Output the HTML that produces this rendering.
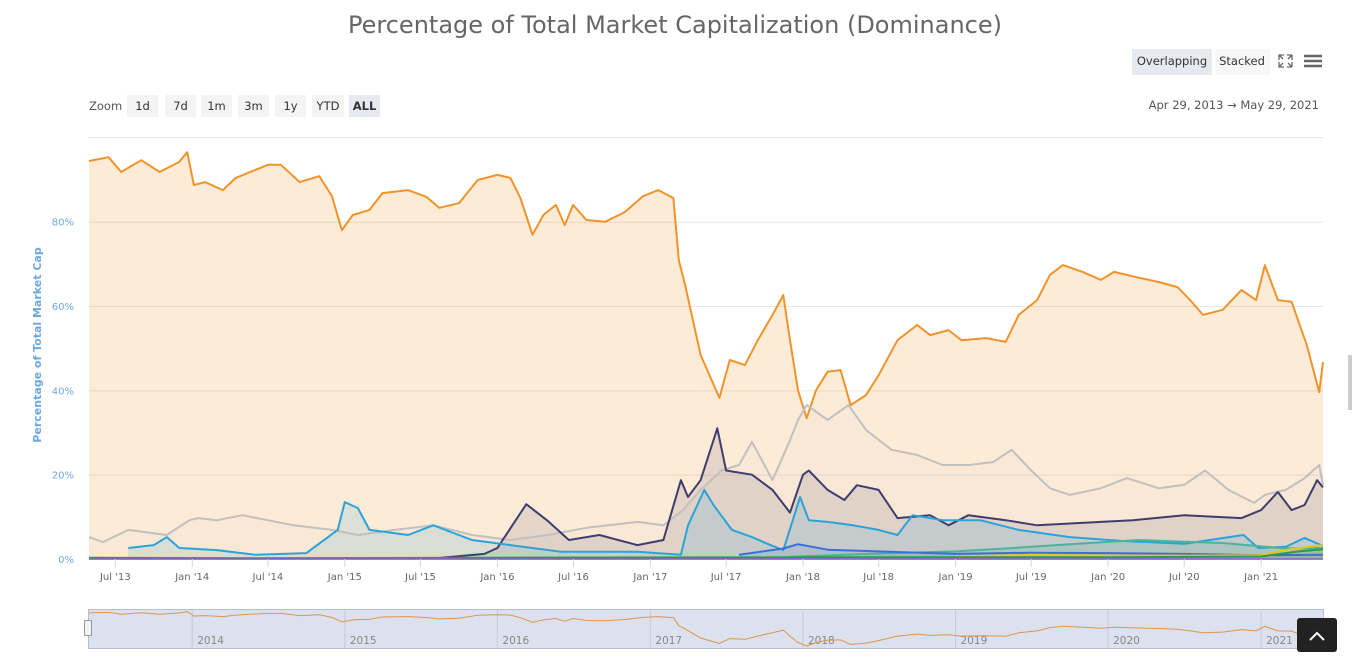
<!DOCTYPE html>
<html><head><meta charset="utf-8">
<style>
body{margin:0;background:#fff;font-family:"DejaVu Sans",sans-serif;}
#wrap{position:relative;width:1352px;height:664px;overflow:hidden;}
svg text{font-family:"DejaVu Sans",sans-serif;}
</style></head><body>
<div id="wrap">
<svg id="svg" width="1352" height="664" xmlns="http://www.w3.org/2000/svg" style="position:absolute;left:0;top:0">
<text x="675" y="33" text-anchor="middle" font-size="24" fill="#666">Percentage of Total Market Capitalization (Dominance)</text>
<rect x="1132" y="49" width="80" height="26" fill="#e6e9f0"/>
<text x="1172" y="65" text-anchor="middle" font-size="11.5" fill="#333">Overlapping</text>
<rect x="1215" y="49" width="55" height="26" fill="#f7f7f7"/>
<text x="1242" y="65" text-anchor="middle" font-size="11.5" fill="#333">Stacked</text>
<g stroke="#666" stroke-width="1.3" fill="none">
<path d="M1279 60v-5h5M1292 55h-5 M1292 55v5 M1279 62v5h5 M1292 67h-5 M1292 67v-5 M1279 55l4 4 M1292 55l-4 4 M1279 67l4-4 M1292 67l-4-4"/></g>
<g stroke="#666" stroke-width="2.5"><path d="M1304 56h18M1304 61h18M1304 66h18"/></g>
<text x="89" y="110" font-size="11.5" fill="#555">Zoom</text>
<g id="zoombtns"></g>
<text x="1319" y="109" text-anchor="end" font-size="11.5" fill="#555">Apr 29, 2013  →  May 29, 2021</text>
<g id="grid"></g>
<g id="plot"></g>
<text transform="translate(41,345) rotate(-90)" text-anchor="middle" font-size="11" font-weight="bold" fill="#6fa8dc">Percentage of Total Market Cap</text>
<g id="nav"></g>
<rect x="1348" y="355" width="4" height="55" fill="#ccc"/>
<rect x="1297" y="618" width="40" height="34" rx="3" fill="#222"/>
<path d="M1310 640l7-7 7 7" stroke="#fff" stroke-width="2" fill="none"/>
</svg>
</div>
<script>
const zoomLabels=["1d","7d","1m","3m","1y","YTD","ALL"];
const yTicks=[0,20,40,60,80];
const xTickLabels=["Jul '13","Jan '14","Jul '14","Jan '15","Jul '15","Jan '16","Jul '16","Jan '17","Jul '17","Jan '18","Jul '18","Jan '19","Jul '19","Jan '20","Jul '20","Jan '21"];
const xTickDates=["2013-07-01","2014-01-01","2014-07-01","2015-01-01","2015-07-01","2016-01-01","2016-07-01","2017-01-01","2017-07-01","2018-01-01","2018-07-01","2019-01-01","2019-07-01","2020-01-01","2020-07-01","2021-01-01"];
const navYears=["2014","2015","2016","2017","2018","2019","2020","2021"];

const btcDates=["2013-04-29","2013-06-15","2013-07-15","2013-09-01","2013-10-15","2013-12-01","2013-12-20","2014-01-05","2014-02-01","2014-03-15","2014-04-15","2014-06-01","2014-07-01","2014-08-01","2014-09-15","2014-11-01","2014-12-01","2014-12-25","2015-01-20","2015-03-01","2015-04-01","2015-06-01","2015-07-15","2015-08-15","2015-10-01","2015-11-15","2016-01-01","2016-02-01","2016-02-25","2016-03-25","2016-04-20","2016-05-20","2016-06-10","2016-06-30","2016-08-01","2016-09-15","2016-11-01","2016-12-15","2017-01-20","2017-02-25","2017-03-10","2017-03-25","2017-05-01","2017-06-15","2017-07-10","2017-08-15","2017-09-15","2017-10-20","2017-11-15","2017-12-01","2017-12-20","2018-01-10","2018-02-01","2018-03-01","2018-04-01","2018-04-25","2018-06-01","2018-07-01","2018-08-15","2018-10-01","2018-11-01","2018-12-15","2019-01-15","2019-03-15","2019-05-01","2019-06-01","2019-07-15","2019-08-15","2019-09-15","2019-11-01","2019-12-15","2020-01-15","2020-03-15","2020-05-01","2020-06-15","2020-07-15","2020-08-15","2020-10-01","2020-11-15","2020-12-20","2021-01-10","2021-02-10","2021-03-15","2021-04-20","2021-05-20","2021-05-29"];
const btcValues=[94.4,95.3,91.8,94.6,91.8,94.2,96.5,88.7,89.4,87.5,90.4,92.3,93.5,93.5,89.4,90.8,86.1,78,81.6,82.8,86.8,87.5,85.9,83.3,84.4,89.9,91.1,90.4,85.6,76.9,81.6,84,79.2,84,80.4,80,82.3,86.1,87.5,85.6,70.9,65,48.4,38.2,47.2,46,51.9,57.9,62.6,51.9,40,33.4,40,44.4,44.8,36.5,38.9,43.6,51.9,55.5,53.1,54.3,51.9,52.4,51.5,57.9,61.4,67.4,69.7,68.1,66.2,68.1,66.7,65.7,64.5,61.4,57.9,59.1,63.8,61.4,69.7,61.4,61,50.8,39.6,46.7];

const othDates=["2013-04-29","2013-06-01","2013-08-01","2013-11-01","2013-12-25","2014-01-15","2014-03-01","2014-05-01","2014-07-01","2014-09-01","2014-12-01","2015-02-01","2015-05-01","2015-08-01","2015-11-01","2016-02-01","2016-05-01","2016-08-01","2016-12-01","2017-02-01","2017-03-20","2017-05-01","2017-06-20","2017-08-01","2017-09-01","2017-10-20","2017-12-01","2017-12-20","2018-01-10","2018-03-01","2018-04-20","2018-06-01","2018-08-01","2018-10-01","2018-12-01","2019-02-01","2019-04-01","2019-05-15","2019-07-01","2019-08-15","2019-10-01","2019-12-15","2020-02-15","2020-05-01","2020-07-01","2020-08-20","2020-10-15","2020-12-15","2021-01-10","2021-03-01","2021-04-15","2021-05-20","2021-05-29"];
const othValues=[5.2,4,6.9,5.7,9.2,9.7,9.2,10.4,9.2,8,6.9,5.7,6.9,8,5.7,4.5,5.7,7.4,8.8,8,11.6,16.4,21,22.3,27.8,18.7,28.2,33,36.5,33,36.5,30.6,25.9,24.7,22.3,22.3,23,25.9,21,16.8,15.2,16.8,19.2,16.8,17.6,21,16.4,13.3,15.2,16.4,19.2,22.3,17.6];

const ethDates=["2015-08-07","2015-12-01","2016-01-01","2016-03-10","2016-05-01","2016-06-20","2016-09-01","2016-12-01","2017-02-01","2017-03-15","2017-04-01","2017-05-01","2017-06-10","2017-07-01","2017-09-01","2017-10-20","2017-12-01","2018-01-01","2018-01-15","2018-03-01","2018-04-10","2018-05-10","2018-07-01","2018-08-15","2018-11-01","2018-12-15","2019-02-01","2019-05-01","2019-07-15","2019-12-15","2020-03-01","2020-07-01","2020-11-15","2021-01-01","2021-02-10","2021-03-15","2021-04-15","2021-05-15","2021-05-29"];
const ethValues=[0.2,1.2,2.6,13,9,4.5,5.7,3.3,4.5,18.7,14.7,18.7,31,21,20,16.4,11,20,21,16.4,14,17.5,16.4,9.7,10.4,8,10.4,9.2,8,8.8,9.2,10.4,9.7,11.6,15.9,11.6,12.8,18.7,17];

const xrpDates=["2013-08-01","2013-10-01","2013-11-01","2013-12-01","2014-03-01","2014-06-01","2014-10-01","2014-12-15","2015-01-01","2015-02-01","2015-03-01","2015-06-01","2015-08-01","2015-11-01","2016-02-01","2016-06-01","2016-12-01","2017-03-15","2017-04-01","2017-05-10","2017-06-01","2017-07-15","2017-09-01","2017-10-15","2017-11-15","2017-12-25","2018-01-15","2018-03-01","2018-05-01","2018-07-01","2018-08-15","2018-09-20","2018-12-01","2019-03-01","2019-06-01","2019-10-01","2020-02-01","2020-07-01","2020-11-20","2020-12-25","2021-03-01","2021-04-15","2021-05-29"];
const xrpValues=[2.6,3.3,5.2,2.6,2.1,1,1.4,6.9,13.5,12.1,6.9,5.7,8,4.5,3.3,1.7,1.7,1,8,16.4,12.8,6.9,5.2,3.3,2.1,14.7,9.2,8.8,8,6.9,5.7,10.4,9.2,9.2,6.9,5.2,4.3,3.6,5.7,2.6,2.9,5,3.1];

const usdtDates=["2017-12-01","2018-06-01","2019-01-01","2019-05-01","2019-10-01","2020-03-15","2020-06-01","2020-10-01","2021-01-01","2021-03-01","2021-05-29"];
const usdtValues=[0.5,1.2,1.8,2.5,3.5,4.5,4.2,3.8,3,2.5,2.6];
const bchDates=["2017-08-01","2017-11-15","2017-12-20","2018-03-01","2018-07-01","2019-01-01","2019-07-01","2020-01-01","2020-07-01","2021-01-01","2021-05-29"];
const bchValues=[1,2.5,3.5,2.2,1.8,1.2,1.5,1.4,1.2,0.9,1];
const bnbDates=["2019-01-01","2019-07-01","2020-01-01","2020-07-01","2021-01-01","2021-02-20","2021-04-15","2021-05-29"];
const bnbValues=[0.6,1,0.8,0.8,0.9,2,2.8,3.3];
const grnDates=["2013-04-29","2014-06-01","2016-01-01","2018-01-01","2020-01-01","2021-01-01","2021-04-01","2021-05-29"];
const grnValues=[0.3,0.2,0.3,0.4,0.4,0.6,1.8,2.3];

const NS="http://www.w3.org/2000/svg";
const t0=Date.parse("2013-04-29"),t1=Date.parse("2021-05-29");
const X0=89,X1=1323,Y0=559,YPX=4.216;
function xs(d){return X0+(Date.parse(d)-t0)/(t1-t0)*(X1-X0);}
function ys(v){return Y0-v*YPX;}
function mk(tag,attrs,parent){const e=document.createElementNS(NS,tag);for(const k in attrs)e.setAttribute(k,attrs[k]);parent.appendChild(e);return e;}
const zb=document.getElementById('zoombtns');
const zx=[127,165,201,238,275,312,349];
zoomLabels.forEach((l,i)=>{
  const w=l==="YTD"?32:31;
  const r=mk('rect',{x:zx[i],y:95,width:w,height:22,fill:l==="ALL"?"#e6e9f0":"#f4f4f4"},zb);
  
  
  const t=mk('text',{x:zx[i]+w/2,y:110,'text-anchor':'middle','font-size':11.5,fill:'#333','font-weight':l==="ALL"?'bold':'normal'},zb);
  t.textContent=l;
  
  
});
const grid=document.getElementById('grid');
mk('line',{x1:X0,x2:X1,y1:137.5,y2:137.5,stroke:'#e6e6e6'},grid);
yTicks.forEach(v=>{
  const l=mk('line',{x1:X0,x2:X1,y1:ys(v)+0.5,y2:ys(v)+0.5,stroke:'#e6e6e6'},grid);
  
  
  const t=mk('text',{x:74,y:ys(v)+4,'text-anchor':'end','font-size':10,fill:'#6fa8dc'},grid);
  t.textContent=v+'%';
  
  
});
const plot=document.getElementById('plot');
const series=[
 {n:'bitcoin',d:btcDates,v:btcValues,c:'#f0932b',fo:0.19,w:2},
 {n:'others',d:othDates,v:othValues,c:'#c0c0c0',fo:0.06,w:2},
 {n:'ethereum',d:ethDates,v:ethValues,c:'#3f3d6e',fo:0.12,w:2},
 {n:'xrp',d:xrpDates,v:xrpValues,c:'#2aa4d8',fo:0.15,w:2},
 {n:'tether',d:usdtDates,v:usdtValues,c:'#4cb39a',fo:0.2,w:2},
 {n:'bitcoin-cash',d:bchDates,v:bchValues,c:'#3a6fd8',fo:0.15,w:2},
 {n:'binance-coin',d:bnbDates,v:bnbValues,c:'#e8c42a',fo:0.15,w:2},
 {n:'cardano',d:grnDates,v:grnValues,c:'#2d9a4a',fo:0.15,w:2}
];
series.forEach(s=>{
  let p=s.d.map((d,i)=>xs(d).toFixed(1)+','+ys(s.v[i]).toFixed(1)).join(' L');
  const a=mk('path',{d:'M'+xs(s.d[0]).toFixed(1)+','+Y0+' L'+p+' L'+xs(s.d[s.d.length-1]).toFixed(1)+','+Y0+'Z',fill:s.c,'fill-opacity':s.fo},plot);
  
  
});
series.forEach(s=>{
  let p=s.d.map((d,i)=>xs(d).toFixed(1)+','+ys(s.v[i]).toFixed(1)).join(' L');
  const l=mk('path',{d:'M'+p,fill:'none',stroke:s.c,'stroke-width':s.w,'stroke-linejoin':'round'},plot);
  
  
});
mk('line',{x1:X0,x2:X1,y1:Y0+0.5,y2:Y0+0.5,stroke:'#ccd6eb'},plot);
mk('line',{x1:X0,x2:X1,y1:Y0,y2:Y0,stroke:'#8a5fd0','stroke-width':1.5},plot);
xTickDates.forEach((d,i)=>{
  const x=xs(d);
  mk('line',{x1:x,x2:x,y1:Y0,y2:Y0+8,stroke:'#ccd6eb'},plot);
  const t=mk('text',{x:x,y:Y0+21,'text-anchor':'middle','font-size':10,fill:'#666'},plot);
  t.textContent=xTickLabels[i];
  
  
});
const nav=document.getElementById('nav');
const n=mk('rect',{x:88.5,y:609.5,width:1235,height:39,fill:'#dbe1ee',stroke:'#b5bdd0'},nav);


navYears.forEach(y=>{
  const x=xs(y+'-01-01');
  mk('line',{x1:x,x2:x,y1:610,y2:648,stroke:'#c5cbd8'},nav);
  const t=mk('text',{x:x+5,y:644,'font-size':10.5,fill:'#888'},nav);
  t.textContent=y;
  
  
});
const np=btcDates.map((d,i)=>xs(d).toFixed(1)+','+(648-(btcValues[i]-30)/66*36).toFixed(1)).join(' L');
mk('path',{d:'M'+np,fill:'none',stroke:'#e0954a','stroke-width':1},nav);
const h=mk('rect',{x:84.5,y:620.5,width:7,height:15,fill:'#f2f2f2',stroke:'#999'},nav);


</script>
</body></html>
